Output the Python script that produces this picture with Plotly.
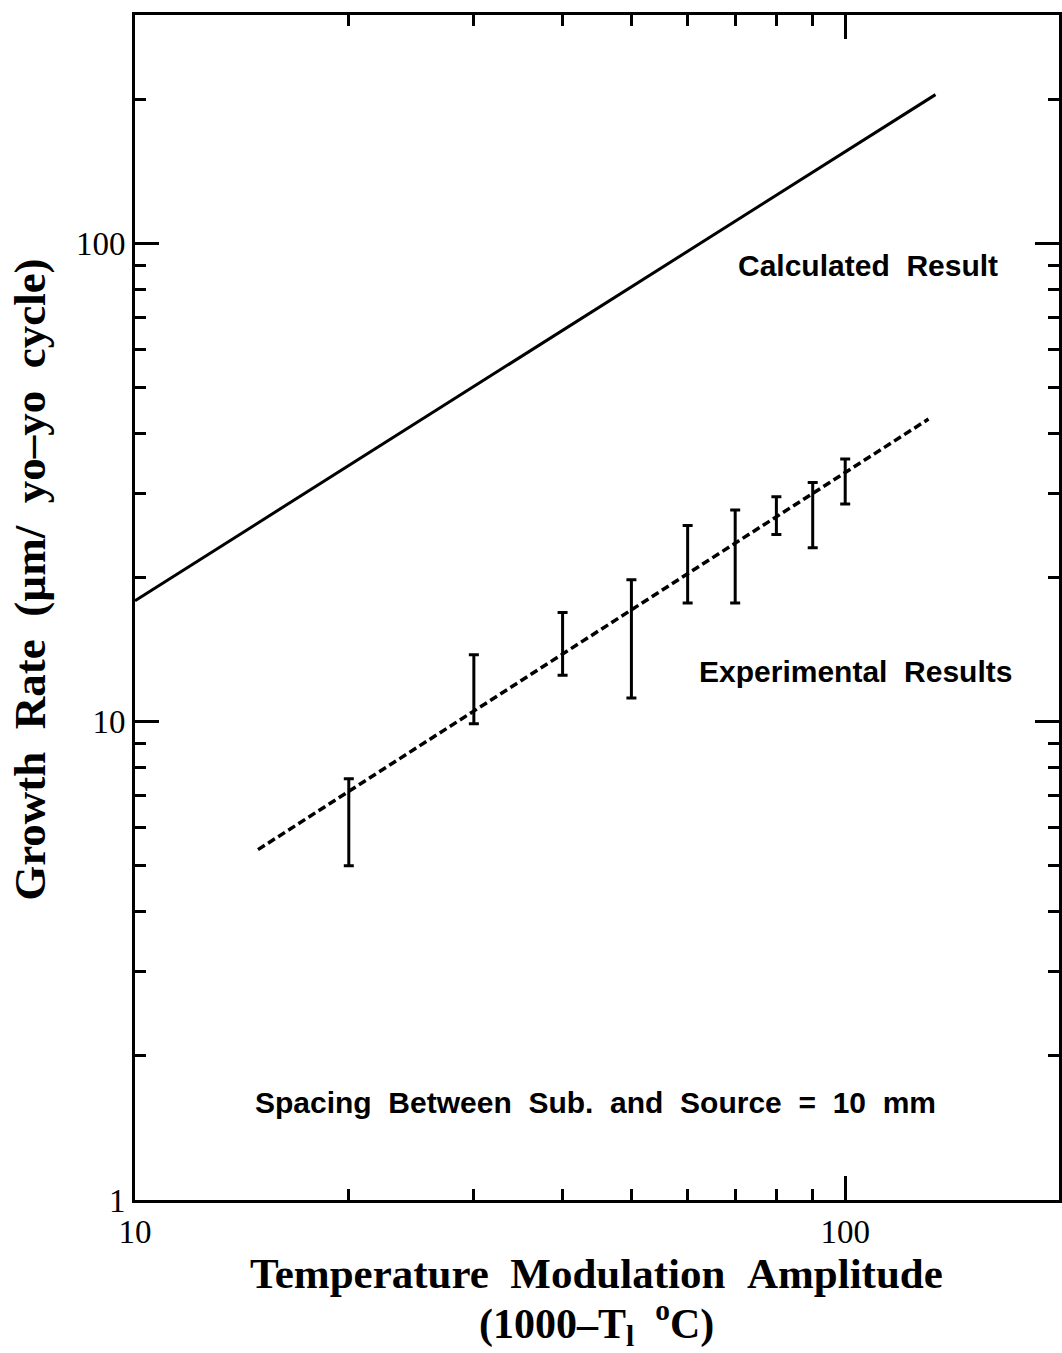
import numpy as np
import plotly.graph_objects as go

# ---- data ----
calc_x = [10, 134]
calc_y = [17.9, 204.5]

fit_x = [14.9, 131]
fit_y = [5.4, 42.9]

exp_x = [20, 30, 40, 50, 60, 70, 80, 90, 100]
exp_lo = [5.0, 9.9, 12.5, 11.2, 17.7, 17.7, 24.6, 23.1, 28.5]
exp_hi = [7.6, 13.8, 16.9, 19.8, 25.7, 27.7, 29.5, 31.6, 35.4]

x_major = [10, 100]
x_major_text = ["10", "100"]
x_minor = [20, 30, 40, 50, 60, 70, 80, 90]
y_major = [1, 10, 100]
y_major_text = ["1", "10", "100"]
y_minor = [2, 3, 4, 5, 6, 7, 8, 9, 20, 30, 40, 50, 60, 70, 80, 90, 200]

lo = np.array(exp_lo)
hi = np.array(exp_hi)
mid = np.sqrt(lo * hi)

fig = go.Figure()
fig.add_trace(go.Scatter(x=calc_x, y=calc_y, mode="lines",
                         line=dict(color="black", width=3), showlegend=False))
fig.add_trace(go.Scatter(x=fit_x, y=fit_y, mode="lines",
                         line=dict(color="black", width=3.5, dash="8px,4px"),
                         showlegend=False))
fig.add_trace(go.Scatter(x=exp_x, y=mid, mode="markers",
                         marker=dict(size=1, color="rgba(0,0,0,0)"),
                         error_y=dict(type="data", symmetric=False,
                                      array=hi - mid, arrayminus=mid - lo,
                                      color="black", thickness=3, width=5),
                         showlegend=False))

serif = "Liberation Serif, Times New Roman, serif"
sans = "Liberation Sans, Arial, sans-serif"

axis_common = dict(type="log", showline=True, linecolor="black", linewidth=3,
                   mirror="allticks", ticks="inside", tickwidth=2.5,
                   tickcolor="black", showgrid=False, zeroline=False,
                   tickfont=dict(family=serif, size=33, color="black"))

fig.update_xaxes(**axis_common, range=[1, np.log10(200)],
                 tickmode="array", tickvals=x_major, ticktext=x_major_text,
                 ticklen=24,
                 minor=dict(tickmode="array", tickvals=x_minor, ticks="inside",
                            ticklen=11, tickwidth=2.5, tickcolor="black",
                            showgrid=False))
fig.update_yaxes(**axis_common, range=[0, np.log10(300)],
                 tickmode="array", tickvals=y_major, ticktext=y_major_text,
                 ticklen=24,
                 minor=dict(tickmode="array", tickvals=y_minor, ticks="inside",
                            ticklen=11, tickwidth=2.5, tickcolor="black",
                            showgrid=False))

sp = "\u00a0"
sp2 = "\u00a0\u00a0"
anns = [
    dict(text=f"Calculated{sp} Result", x=0.793, y=0.789),
    dict(text=f"Experimental{sp} Results", x=0.780, y=0.4456),
    dict(text=f"Spacing{sp} Between{sp} Sub.{sp} and{sp} Source{sp} ={sp} 10{sp} mm",
         x=0.498, y=0.0827),
]
for a in anns:
    fig.add_annotation(text="<b>" + a["text"] + "</b>", x=a["x"], y=a["y"],
                       xref="paper", yref="paper",
                       xanchor="center", yanchor="middle", showarrow=False,
                       font=dict(family=sans, size=30, color="black"))

fig.add_annotation(
    text=f"<b>Temperature{sp2}Modulation{sp2}Amplitude</b>",
    x=0.499, y=-0.0624, xref="paper", yref="paper", xanchor="center",
    yanchor="middle", showarrow=False,
    font=dict(family=serif, size=43, color="black"))
fig.add_annotation(
    text=f"<b>(1000–T<sub>l</sub>{sp} <sup>o</sup>C)</b>",
    x=0.499, y=-0.104, xref="paper", yref="paper", xanchor="center",
    yanchor="middle", showarrow=False,
    font=dict(family=serif, size=42, color="black"))

fig.add_annotation(
    text=f"<b>Growth{sp2}Rate{sp2}(µm/{sp2}yo–yo{sp2}cycle)</b>",
    x=-0.113, y=0.523, xref="paper", yref="paper", xanchor="center",
    yanchor="middle", showarrow=False, textangle=-90,
    font=dict(family=serif, size=45, color="black"))

fig.update_layout(width=1062, height=1353,
                  margin=dict(l=135, r=0, t=15, b=153),
                  paper_bgcolor="white", plot_bgcolor="white",
                  showlegend=False)

fig.write_html("out.html", config={"displayModeBar": False},
               post_script="document.body.style.margin='0';")
